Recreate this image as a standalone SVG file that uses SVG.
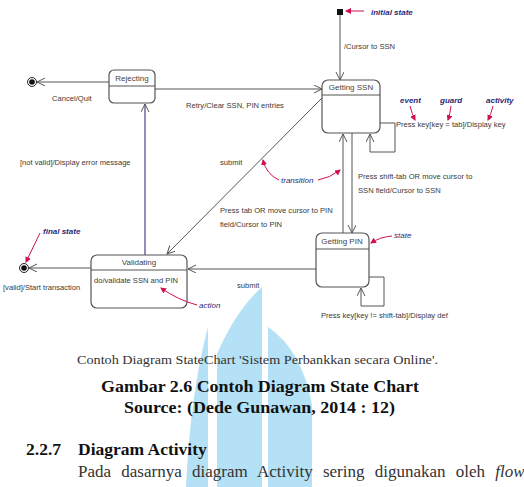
<svg xmlns="http://www.w3.org/2000/svg" width="524" height="487" viewBox="0 0 524 487">
<style>
.lbl{font-family:"Liberation Sans",Arial,sans-serif;font-size:7.6px;fill:#3a3a3a}
.ttl{font-family:"Liberation Sans",Arial,sans-serif;font-size:8px;fill:#444}
.ann{font-family:"Liberation Sans",Arial,sans-serif;font-size:8px;font-style:italic;font-weight:bold;fill:#2a2a7a}
.box{fill:#fff;stroke:#555;stroke-width:1.2}
.div{stroke:#555;stroke-width:1}
.con{fill:none;stroke:#555;stroke-width:1}
.red{fill:none;stroke:#d0104a;stroke-width:1}
.cap{font-family:"Liberation Serif","Times New Roman",serif;fill:#333}
.hd{font-family:"Liberation Serif","Times New Roman",serif;font-weight:bold;fill:#111}
.wm{fill:#b4e1f5}
</style>
<defs>
<marker id="open" markerWidth="9" markerHeight="9" refX="8" refY="4" orient="auto" markerUnits="userSpaceOnUse">
<path d="M0,0 L8,4 L0,8" fill="none" stroke="#555" stroke-width="1"/>
</marker>
<marker id="redh" markerWidth="6" markerHeight="6" refX="5" refY="3" orient="auto" markerUnits="userSpaceOnUse">
<path d="M0,0 L6,3 L0,6 Z" fill="#d0104a"/>
</marker>
</defs>
<rect width="524" height="487" fill="#fff"/>
<g id="watermark">
<path class="wm" d="M208,327 L208,487 L186,487 Q190,395 208,327 Z"/>
<path class="wm" d="M262,287 L262,487 L217,487 L217,354 Q236,310 262,287 Z"/>
<path class="wm" d="M268,327 L268,487 L312,487 L312,405 Q302,350 268,327 Z"/>
</g>
<g id="connectors">
<line class="con" x1="340" y1="14" x2="340" y2="80" marker-end="url(#open)"/>
<line class="con" x1="155" y1="89" x2="322" y2="89" marker-end="url(#open)"/>
<line class="con" x1="109" y1="82" x2="37" y2="82" marker-end="url(#open)"/>
<line x1="145" y1="255" x2="145" y2="104" stroke="#44448a" stroke-width="1.2" fill="none" marker-end="url(#open)"/>
<line class="con" x1="324" y1="96" x2="167" y2="254" marker-end="url(#open)"/>
<line class="con" x1="343" y1="233" x2="343" y2="134" marker-end="url(#open)"/>
<line class="con" x1="352" y1="133" x2="352" y2="233" marker-end="url(#open)"/>
<line class="con" x1="316" y1="269" x2="188" y2="269" marker-end="url(#open)"/>
<line class="con" x1="91" y1="268" x2="29" y2="268" marker-end="url(#open)"/>
<polyline class="con" points="380,123 395,123 395,152 370,152 370,134" marker-end="url(#open)"/>
<polyline class="con" points="369,277 384,277 384,306 361,306 361,288" marker-end="url(#open)"/>
<text class="lbl" x="344" y="49">/Cursor to SSN</text>
<text class="lbl" x="186" y="108">Retry/Clear SSN, PIN entries</text>
<text class="lbl" x="52" y="101">Cancel/Quit</text>
<text class="lbl" x="20" y="165">[not valid]/Display error message</text>
<text class="lbl" x="220" y="165">submit</text>
<text class="lbl" x="396" y="127">Press key[key = tab]/Display key</text>
<text class="lbl" x="358" y="179">Press shift-tab OR move cursor to</text>
<text class="lbl" x="358" y="193">SSN field/Cursor to SSN</text>
<text class="lbl" x="220" y="213">Press tab OR move cursor to PIN</text>
<text class="lbl" x="220" y="227">field/Cursor to PIN</text>
<text class="lbl" x="237" y="288">submit</text>
<text class="lbl" x="3" y="290">[valid]/Start transaction</text>
<text class="lbl" x="321" y="318">Press key[key != shift-tab]/Display def</text>
</g>
<g id="initial-state"><rect x="337" y="9" width="6" height="6" fill="#111"/></g>
<g id="rejecting">
<rect class="box" x="109" y="70" width="46" height="33" rx="5"/>
<line class="div" x1="109" y1="86" x2="155" y2="86"/>
<text class="ttl" x="132" y="81" text-anchor="middle">Rejecting</text>
</g>
<g id="getting-ssn">
<rect class="box" x="322" y="80" width="58" height="53" rx="6"/>
<line class="div" x1="322" y1="95" x2="380" y2="95"/>
<text class="ttl" x="351" y="90" text-anchor="middle">Getting SSN</text>
</g>
<g id="validating">
<rect class="box" x="91" y="255" width="96" height="53" rx="6"/>
<line class="div" x1="91" y1="270" x2="187" y2="270"/>
<text class="ttl" x="139" y="265" text-anchor="middle">Validating</text>
<text class="lbl" x="94" y="283">do/validate SSN and PIN</text>
</g>
<g id="getting-pin">
<rect class="box" x="316" y="233" width="53" height="54" rx="6"/>
<line class="div" x1="316" y1="249" x2="369" y2="249"/>
<text class="ttl" x="342" y="244" text-anchor="middle">Getting PIN</text>
</g>
<g id="final-cancel">
<circle cx="32" cy="82" r="4.5" fill="#fff" stroke="#222" stroke-width="1"/>
<circle cx="32" cy="82" r="2.8" fill="#111"/>
</g>
<g id="final-valid">
<circle cx="24" cy="268" r="4.5" fill="#fff" stroke="#222" stroke-width="1"/>
<circle cx="24" cy="268" r="2.8" fill="#111"/>
</g>
<g id="annotations">
<line class="red" x1="364" y1="11" x2="346" y2="11" marker-end="url(#redh)"/>
<text class="ann" x="371" y="15">initial state</text>
<text class="ann" x="400" y="103">event</text>
<path class="red" d="M410,106 Q412,114 415,120" marker-end="url(#redh)"/>
<text class="ann" x="440" y="103">guard</text>
<path class="red" d="M451,106 Q450,114 448,120" marker-end="url(#redh)"/>
<text class="ann" x="486" y="103">activity</text>
<path class="red" d="M493,106 Q491,114 488,120" marker-end="url(#redh)"/>
<text class="ann" x="281" y="183" style="font-weight:normal">transition</text>
<path class="red" d="M279,180 Q266,174 263,160" marker-end="url(#redh)"/>
<path class="red" d="M318,180 Q330,178 340,170" marker-end="url(#redh)"/>
<text class="ann" x="394" y="238" style="font-weight:normal">state</text>
<path class="red" d="M392,236 Q380,237 371,243" marker-end="url(#redh)"/>
<text class="ann" x="43" y="234">final state</text>
<line class="red" x1="40" y1="233" x2="26" y2="262" marker-end="url(#redh)"/>
<text class="ann" x="199" y="308" style="font-weight:normal">action</text>
<path class="red" d="M197,305 Q178,300 161,288" marker-end="url(#redh)"/>
</g>
<g id="caption">
<text class="cap" x="77" y="364" font-size="12.5" textLength="361" lengthAdjust="spacingAndGlyphs">Contoh Diagram StateChart 'Sistem Perbankkan secara Online'.</text>
<text class="hd" x="101" y="392" font-size="17.5" textLength="318" lengthAdjust="spacingAndGlyphs">Gambar 2.6 Contoh Diagram State Chart</text>
<text class="hd" x="124" y="413" font-size="17.5" textLength="271" lengthAdjust="spacingAndGlyphs">Source: (Dede Gunawan, 2014 : 12)</text>
<text class="hd" x="26" y="455" font-size="17.5">2.2.7</text>
<text class="hd" x="78" y="455" font-size="17.5">Diagram Activity</text>
<text class="cap" x="78" y="477" font-size="17" fill="#222" word-spacing="6">Pada dasarnya diagram Activity sering digunakan oleh <tspan font-style="italic">flow</tspan></text>
</g>
</svg>
